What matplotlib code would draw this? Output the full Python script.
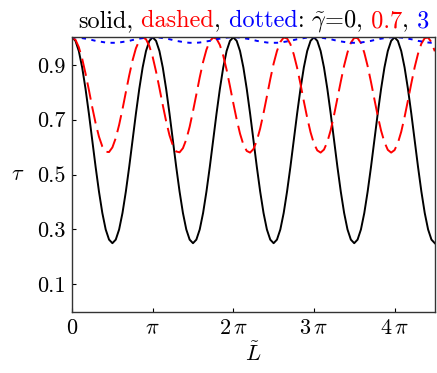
import numpy as np
import matplotlib
matplotlib.use("Agg")
import matplotlib.pyplot as plt

plt.rcParams['font.family'] = 'serif'
plt.rcParams['font.serif'] = ['cmr10']
plt.rcParams['mathtext.fontset'] = 'cm'
plt.rcParams['axes.formatter.use_mathtext'] = True

# L~ in units of pi, sampled every pi/24
L_over_pi = [k / 24 for k in range(109)]

# gamma~ = 0 (solid)
tau_solid = [
    1.000, 0.987, 0.950, 0.890, 0.812, 0.722, 0.625, 0.528, 0.438, 0.360, 0.300, 0.263,
    0.250, 0.263, 0.300, 0.360, 0.438, 0.528, 0.625, 0.722, 0.812, 0.890, 0.950, 0.987,
    1.000, 0.987, 0.950, 0.890, 0.812, 0.722, 0.625, 0.528, 0.438, 0.360, 0.300, 0.263,
    0.250, 0.263, 0.300, 0.360, 0.438, 0.528, 0.625, 0.722, 0.812, 0.890, 0.950, 0.987,
    1.000, 0.987, 0.950, 0.890, 0.812, 0.722, 0.625, 0.528, 0.438, 0.360, 0.300, 0.263,
    0.250, 0.263, 0.300, 0.360, 0.438, 0.528, 0.625, 0.722, 0.812, 0.890, 0.950, 0.987,
    1.000, 0.987, 0.950, 0.890, 0.812, 0.722, 0.625, 0.528, 0.438, 0.360, 0.300, 0.263,
    0.250, 0.263, 0.300, 0.360, 0.438, 0.528, 0.625, 0.722, 0.812, 0.890, 0.950, 0.987,
    1.000, 0.987, 0.950, 0.890, 0.812, 0.722, 0.625, 0.528, 0.438, 0.360, 0.300, 0.263,
    0.250]
# gamma~ = 0.7 (dashed)
tau_dashed = [
    1.000, 0.991, 0.964, 0.922, 0.868, 0.808, 0.745, 0.687, 0.638, 0.602, 0.583, 0.582,
    0.599, 0.633, 0.681, 0.738, 0.800, 0.861, 0.916, 0.960, 0.988, 1.000, 0.993, 0.968,
    0.928, 0.875, 0.815, 0.753, 0.694, 0.643, 0.606, 0.584, 0.581, 0.596, 0.628, 0.674,
    0.731, 0.792, 0.854, 0.910, 0.955, 0.986, 0.999, 0.995, 0.972, 0.933, 0.882, 0.822,
    0.760, 0.701, 0.649, 0.609, 0.586, 0.580, 0.593, 0.623, 0.668, 0.724, 0.785, 0.847,
    0.904, 0.950, 0.983, 0.999, 0.996, 0.975, 0.938, 0.889, 0.830, 0.767, 0.707, 0.654,
    0.613, 0.588, 0.580, 0.591, 0.619, 0.662, 0.717, 0.778, 0.839, 0.897, 0.945, 0.980,
    0.998, 0.997, 0.979, 0.944, 0.895, 0.837, 0.775, 0.714, 0.660, 0.618, 0.590, 0.580,
    0.589, 0.615, 0.656, 0.710, 0.770, 0.832, 0.891, 0.940, 0.977, 0.997, 0.999, 0.982,
    0.949]
# gamma~ = 3 (dotted)
tau_dotted = [
    1.000, 1.000, 0.999, 0.997, 0.995, 0.993, 0.990, 0.987, 0.985, 0.983, 0.981, 0.980,
    0.980, 0.980, 0.981, 0.983, 0.985, 0.987, 0.990, 0.993, 0.995, 0.997, 0.999, 1.000,
    1.000, 1.000, 0.999, 0.997, 0.995, 0.993, 0.990, 0.987, 0.985, 0.983, 0.981, 0.980,
    0.980, 0.980, 0.981, 0.983, 0.985, 0.987, 0.990, 0.993, 0.995, 0.997, 0.999, 1.000,
    1.000, 1.000, 0.999, 0.997, 0.995, 0.993, 0.990, 0.987, 0.985, 0.983, 0.981, 0.980,
    0.980, 0.980, 0.981, 0.983, 0.985, 0.987, 0.990, 0.993, 0.995, 0.997, 0.999, 1.000,
    1.000, 1.000, 0.999, 0.997, 0.995, 0.993, 0.990, 0.987, 0.985, 0.983, 0.981, 0.980,
    0.980, 0.980, 0.981, 0.983, 0.985, 0.987, 0.990, 0.993, 0.995, 0.997, 0.999, 1.000,
    1.000, 1.000, 0.999, 0.997, 0.995, 0.993, 0.990, 0.987, 0.985, 0.983, 0.981, 0.980,
    0.980]

yticks = [0.1, 0.3, 0.5, 0.7, 0.9]
xticks = [0, 1, 2, 3, 4]
xticklabels = ['0', r'$\pi$', r'$2\,\pi$', r'$3\,\pi$', r'$4\,\pi$']

x = np.array(L_over_pi) * np.pi

fig = plt.figure(figsize=(4.37, 3.73), dpi=100)
ax = fig.add_axes([0.165, 0.164, 0.830, 0.736])

ax.plot(x, tau_solid, color='black', lw=1.4)
ax.plot(x, tau_dashed, color='red', lw=1.4, dashes=(9, 3.5))
ax.plot(x, tau_dotted, color='blue', lw=1.4, dashes=(2.2, 2.8))

ax.set_xlim(0, 4.5 * np.pi)
ax.set_ylim(0, 1)
ax.set_yticks(yticks)
ax.set_yticklabels([f'{v:.1f}' for v in yticks])
ax.set_xticks(np.array(xticks) * np.pi)
ax.set_xticklabels(xticklabels)
ax.tick_params(direction='in', length=3, width=0.8, labelsize=16, pad=5,
               top=False, right=False)
for s in ax.spines.values():
    s.set_linewidth(1.0)
    s.set_color('#333333')

ax.set_xlabel(r'$\tilde{L}$', fontsize=16, labelpad=2)
ax.set_ylabel(r'$\tau$', fontsize=16, rotation=0, labelpad=14, va='center')

# multicoloured title, pieces laid side by side
pieces = [('solid,', 'black'), (' dashed', 'red'), (',', 'black'), (' dotted', 'blue'),
          (r': $\tilde{\gamma}$=0,', 'black'), (' 0.7', 'red'), (',', 'black'), (' 3', 'blue')]
title_size = 17.5
fig.canvas.draw()
renderer = fig.canvas.get_renderer()
widths = []
for txt, col in pieces:
    t = fig.text(0, 0, txt, fontsize=title_size)
    widths.append(t.get_window_extent(renderer).width)
    t.remove()
total = sum(widths)
ax_box = ax.get_window_extent(renderer)
x0 = (ax_box.x0 + ax_box.x1) / 2 - total / 2
y0 = fig.bbox.height - 27
for (txt, col), w in zip(pieces, widths):
    fig.text(x0 / fig.bbox.width, y0 / fig.bbox.height, txt, color=col,
             fontsize=title_size, va='baseline', ha='left')
    x0 += w

fig.savefig('out.png', dpi=100)
